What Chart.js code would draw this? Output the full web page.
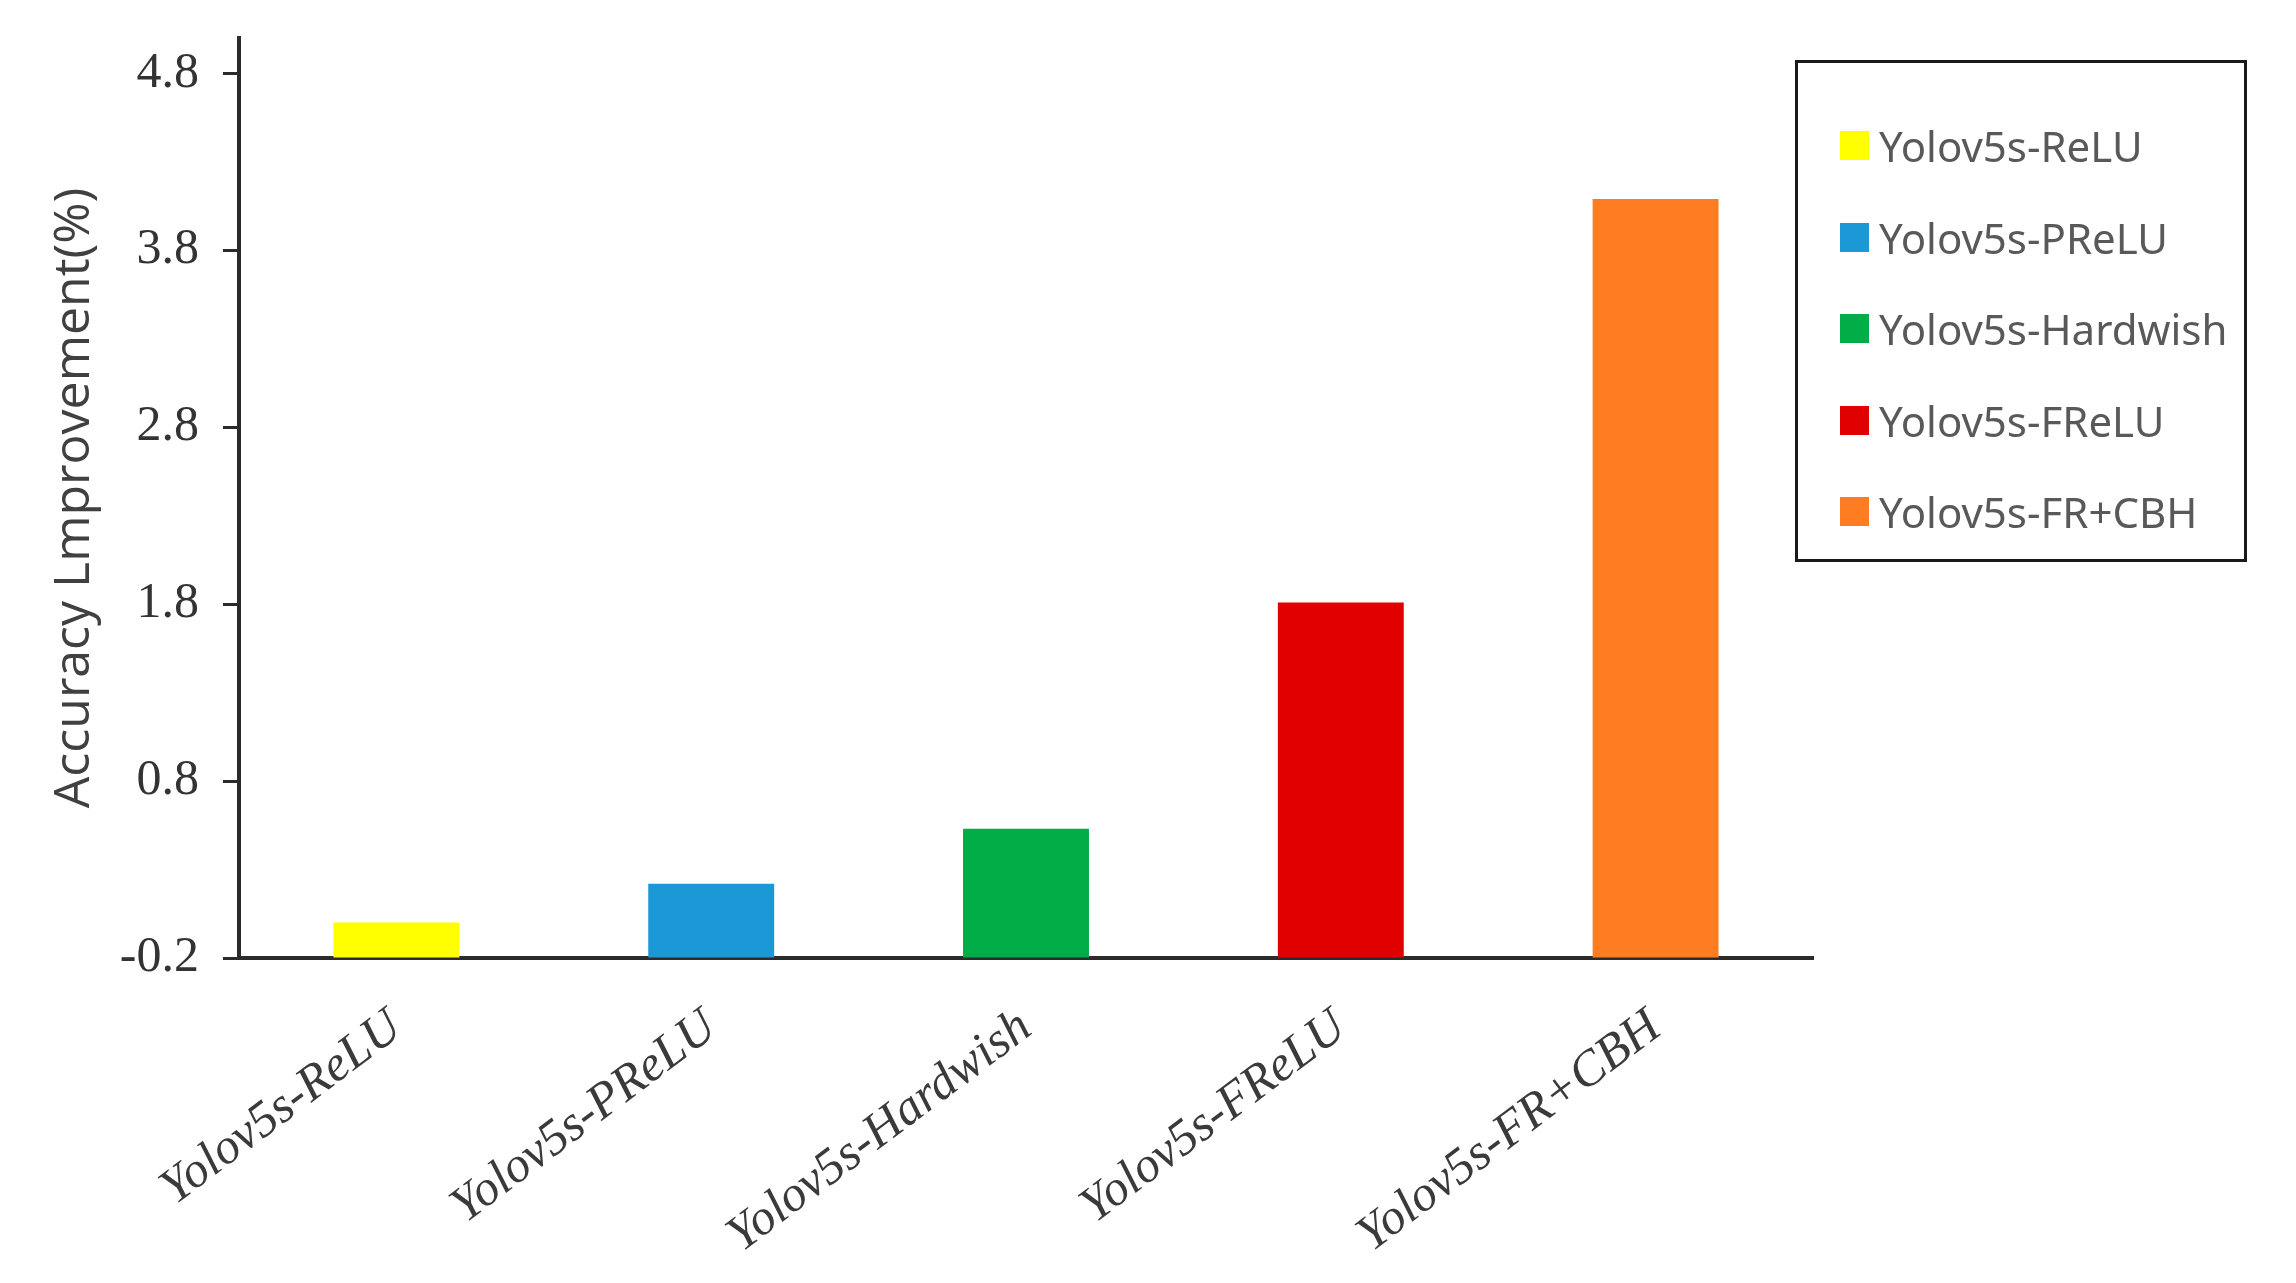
<!DOCTYPE html>
<html>
<head>
<meta charset="utf-8">
<script src="https://cdn.jsdelivr.net/npm/chart.js@4.4.0/dist/chart.umd.min.js"></script>
<style>
  body { margin: 0; background: #fff; }
  #wrap { position: relative; width: 2296px; height: 1283px; }
  #legendBox {
    position: absolute; left: 1795px; top: 60px; width: 452px; height: 502px;
    box-sizing: border-box; border: 3px solid #1a1a1a; padding: 37px 0 0 42px;
    font-family: 'Noto Sans', sans-serif; font-size: 42px; color: #595959;
  }
  .item { height: 91.5px; display: flex; align-items: center; white-space: nowrap; }
  .sw { width: 29px; height: 29px; margin-right: 10px; flex: none; }
</style>
</head>
<body>
<div id="wrap">
  <canvas id="barChart"></canvas>
  <div id="legendBox"></div>
</div>
<script>
var categories = ['Yolov5s-ReLU', 'Yolov5s-PReLU', 'Yolov5s-Hardwish', 'Yolov5s-FReLU', 'Yolov5s-FR+CBH']
var improvement = [0.0, 0.22, 0.53, 1.81, 4.09]
var barColors = ['#FFFF00', '#1B98D6', '#00AD47', '#E00000', '#FE7D23']
var yTicks = [-0.2, 0.8, 1.8, 2.8, 3.8, 4.8]

// legend as plain html, one row per bar
var legendBox = document.getElementById('legendBox')
categories.forEach(function(name, i) {
  var row = document.createElement('div')
  row.className = 'item'
  var sw = document.createElement('span')
  sw.className = 'sw'
  sw.style.background = barColors[i]
  row.appendChild(sw)
  row.appendChild(document.createTextNode(name))
  legendBox.appendChild(row)
})

var ctx = document.getElementById('barChart').getContext('2d')

new Chart(ctx, {
  type: 'bar',
  data: {
    labels: categories,
    datasets: [{
      data: improvement,
      backgroundColor: barColors,
      base: yTicks[0],
      barPercentage: 0.4,
      categoryPercentage: 1.0
    }]
  },
  options: {
    responsive: true,
    maintainAspectRatio: false,
    animation: false,
    layout: { padding: { top: 38, right: 483, left: 0, bottom: 0 } },
    plugins: {
      legend: { display: false },
      tooltip: { enabled: false }
    },
    scales: {
      x: {
        grid: { display: false, drawTicks: false },
        border: { display: true, color: '#2b2b2b', width: 4 },
        ticks: {
          autoSkip: false,
          minRotation: 37,
          maxRotation: 37,
          padding: 40,
          color: '#3a3a3a',
          font: { family: "'Liberation Serif', serif", style: 'italic', size: 50 }
        },
        afterFit: function(scale) { scale.height = 325 }
      },
      y: {
        min: -0.2,
        max: 5.0,
        afterBuildTicks: function(scale) {
          scale.ticks = yTicks.map(function(v) { return { value: v } })
        },
        grid: { display: true, drawOnChartArea: false, drawTicks: true, tickLength: 16, tickWidth: 3, tickColor: '#2b2b2b' },
        border: { display: true, color: '#2b2b2b', width: 4 },
        ticks: {
          padding: 24,
          color: '#333333',
          font: { family: "'Liberation Serif', serif", size: 50 },
          callback: function(v) { return Number(v).toFixed(1) }
        },
        title: {
          display: true,
          text: 'Accuracy Lmprovement(%)',
          color: '#404040',
          padding: { top: 45, bottom: 0 },
          font: { family: "'Open Sans', sans-serif", size: 50 }
        },
        afterFit: function(scale) {
          scale.width = 239
          // the axis runs above the top label, so no extra room is needed for it
          scale.paddingTop = 0
          scale.paddingBottom = 0
        }
      }
    }
  }
})
</script>
</body>
</html>
